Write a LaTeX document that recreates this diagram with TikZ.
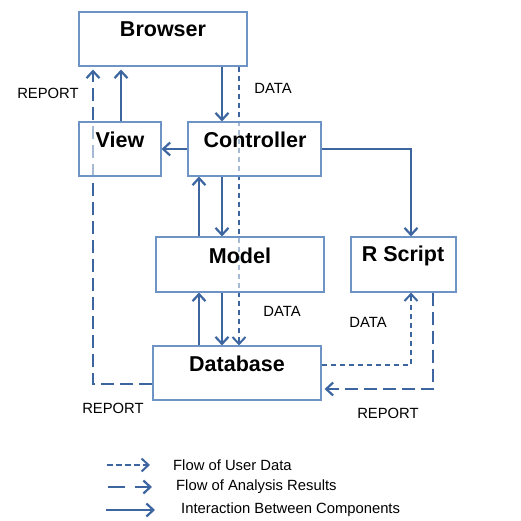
\documentclass[tikz,border=0pt]{standalone}
\usepackage{fontspec}
\setmainfont{Liberation Sans}
\usetikzlibrary{arrows.meta,backgrounds}
\definecolor{arr}{HTML}{3D66A0}
\definecolor{bord}{HTML}{6E94C6}
\tikzset{
  box/.style={draw=bord, line width=1.1pt, fill=white, fill opacity=0.55, text opacity=1, inner sep=0pt},
  title/.style={font=\bfseries\fontsize{21.5}{25}\selectfont, inner sep=0pt},
  lab/.style={font=\fontsize{14.8}{17}\selectfont, inner sep=0pt},
  tipx/.style={-{Straight Barb[length=7pt,width=13pt]}},
  link/.style={arr, line width=2.2pt, tipx},
  userdata/.style={arr, line width=2pt, dash pattern=on 5.5pt off 3.5pt, tipx},
  result/.style={arr, line width=2.2pt, dash pattern=on 13pt off 6pt, tipx},
}
\begin{document}
\begin{tikzpicture}[x=1pt,y=-1pt]
\useasboundingbox (0,0) rectangle (521,521);
% boxes
\node[box, minimum width=168pt, minimum height=54pt] (browser) at (163,39) {};
\node[box, minimum width=82pt, minimum height=54pt] (view) at (120,149) {};
\node[box, minimum width=133pt, minimum height=54pt] (ctrl) at (254.5,149) {};
\node[box, minimum width=168pt, minimum height=55pt] (model) at (240,264.5) {};
\node[box, minimum width=105pt, minimum height=55pt] (rscript) at (403.5,264.5) {};
\node[box, minimum width=168pt, minimum height=54pt] (db) at (237,373) {};
% titles
\node[title] (tbrowser) at (163,29) {Browser};
\node[title] (tview) at (120,140) {View};
\node[title] (tctrl) at (255,140) {Controller};
\node[title] (tmodel) at (240,256) {Model};
\node[title] (trscript) at (403,256) {R Script};
\node[title] (tdb) at (237,364) {Database};
% labels
\node[lab] (l1) at (48,93) {REPORT};
\node[lab] (l2) at (273,88) {DATA};
\node[lab] (l3) at (282,311) {DATA};
\node[lab] (l4) at (368,322) {DATA};
\node[lab] (l5) at (113,408) {REPORT};
\node[lab] (l6) at (388,413) {REPORT};
% helper coordinates
\coordinate (xr) at (93,0);
\coordinate (xv) at (121,0);
\coordinate (xm) at (199,0);
\coordinate (xa) at (222,0);
\coordinate (xd) at (239,0);
\coordinate (xs) at (411,0);
\coordinate (xq) at (433,0);
\coordinate (yc) at (0,149);
\coordinate (yd1) at (0,365);
\coordinate (yd2) at (0,389);
\coordinate (yr) at (0,384);
\begin{pgfonlayer}{background}
% interactions
\draw[link] (browser.south -| xa) -- (ctrl.north -| xa);
\draw[link] (view.north -| xv) -- ([yshift=-3pt]browser.south -| xv);
\draw[link] (ctrl.west |- yc) -- (view.east |- yc);
\draw[link] (ctrl.east |- yc) -| (rscript.north -| xs);
\draw[link] (model.north -| xm) -- (ctrl.south -| xm);
\draw[link] (ctrl.south -| xa) -- (model.north -| xa);
\draw[link] (model.south -| xa) -- (db.north -| xa);
\draw[link] (db.north -| xm) -- (model.south -| xm);
% user data
\draw[userdata] (browser.south -| xd) -- (db.north -| xd);
\draw[userdata] (db.east |- yd1) -| (rscript.south -| xs);
% results
\draw[result] (db.west |- yr) -| ([yshift=-3pt]browser.south -| xr);
\draw[result] (rscript.south -| xq) |- ([xshift=3pt]db.east |- yd2);
\end{pgfonlayer}
% legend
\coordinate (a1) at (107,465); \coordinate (b1) at (150,465);
\coordinate (a2) at (108,487); \coordinate (b2) at (152,487);
\coordinate (a3) at (106,510); \coordinate (b3) at (155,510);
\draw[userdata] (a1) -- (b1);
\draw[result, dash pattern=on 17pt off 10pt] (a2) -- (b2);
\draw[link] (a3) -- (b3);
\node[lab, anchor=west] (lg1) at (173,465) {Flow of User Data};
\node[lab, anchor=west] (lg2) at (176,487) {Flow of Analysis Results};
\node[lab, anchor=west] (lg3) at (181,510) {Interaction Between Components};
\end{tikzpicture}
\end{document}
